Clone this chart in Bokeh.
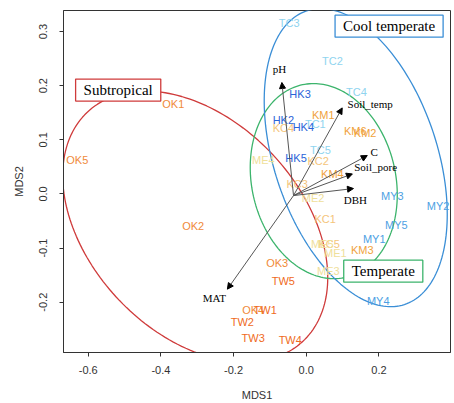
import numpy as np
from bokeh.plotting import figure
from bokeh.models import (FixedTicker, PrintfTickFormatter, Label, Arrow, NormalHead,
                          ColumnDataSource, Range1d)
from bokeh.core.properties import value
from bokeh.embed import file_html
from bokeh.resources import INLINE

# ---- site scores (NMDS) ----
sites = ["TC3", "TC2", "TC4", "TC1", "TC5",
         "HK3", "HK2", "HK4", "HK5",
         "KM1", "KM6", "KM2", "KM4", "KM3",
         "KC4", "KC2", "KC3", "KC1", "KC5",
         "ME4", "ME2", "ME5", "ME1", "ME3",
         "MY3", "MY2", "MY5", "MY1", "MY4",
         "OK1", "OK5", "OK2", "OK3", "OK4",
         "TW1", "TW5", "TW2", "TW3", "TW4"]
mds1 = [-0.047, 0.072, 0.138, 0.025, 0.039,
        -0.017, -0.063, -0.008, -0.028,
        0.047, 0.135, 0.162, 0.072, 0.154,
        -0.063, 0.033, -0.025, 0.052, 0.063,
        -0.118, 0.019, 0.044, 0.080, 0.061,
        0.237, 0.363, 0.248, 0.187, 0.198,
        -0.366, -0.630, -0.311, -0.080, -0.146,
        -0.113, -0.063, -0.176, -0.146, -0.044]
mds2 = [0.315, 0.245, 0.189, 0.130, 0.082,
        0.185, 0.136, 0.124, 0.067,
        0.145, 0.117, 0.112, 0.036, -0.103,
        0.121, 0.060, 0.019, -0.046, -0.092,
        0.062, -0.007, -0.092, -0.109, -0.142,
        -0.003, -0.022, -0.057, -0.083, -0.197,
        0.167, 0.063, -0.059, -0.127, -0.214,
        -0.214, -0.160, -0.236, -0.266, -0.269]
site_prefix = ["TC", "HK", "KM", "KC", "ME", "MY", "OK", "TW"]
prefix_colors = ["#8fd4ef", "#2b63d8", "#f0a23c", "#f4c47a", "#efe09a", "#4d9fe3", "#f08a3a", "#ef6a22"]

# ---- environmental vectors ----
vec_names = ["pH", "Soil_temp", "C", "Soil_pore", "DBH", "MAT"]
vec_x = [-0.067, 0.099, 0.168, 0.127, 0.130, -0.217]
vec_y = [0.206, 0.159, 0.071, 0.037, 0.010, -0.176]
vec_lab_x = [-0.074, 0.176, 0.187, 0.191, 0.135, -0.253]
vec_lab_y = [0.230, 0.167, 0.078, 0.049, -0.011, -0.193]
vec_origin = [-0.035, -0.003]

# ---- group ellipses ----
groups = ["Subtropical", "Temperate", "Cool temperate"]
group_colors = ["#cf3b3b", "#3cb46c", "#3a8ed6"]
ell_cx = [-0.3055, 0.0482, 0.1362]
ell_cy = [-0.0604, 0.0237, 0.0671]
ell_sxx = [0.1330, 0.04093, 0.06343]
ell_syy = [0.06273, 0.03248, 0.07585]
ell_sxy = [-0.03438, -0.00509, -0.02646]
group_lab_x = [-0.5175, 0.212, 0.228]
group_lab_y = [0.1919, -0.1427, 0.310]

p = figure(width=454, height=403, output_backend="svg", toolbar_location=None,
           x_range=Range1d(-0.668, 0.397), y_range=Range1d(-0.293, 0.339),
           min_border_left=63, min_border_right=4, min_border_top=10, min_border_bottom=51)
p.background_fill_color = "white"
p.border_fill_color = "white"
p.outline_line_color = "#333333"
p.outline_line_width = 1
p.xgrid.visible = False
p.ygrid.visible = False

for ax, ticks in ((p.xaxis[0], [-0.6, -0.4, -0.2, 0.0, 0.2, 0.4]),
                  (p.yaxis[0], [-0.2, -0.1, 0.0, 0.1, 0.2, 0.3])):
    ax.ticker = FixedTicker(ticks=ticks)
    ax.formatter = PrintfTickFormatter(format="%.1f")
    ax.minor_tick_line_color = None
    ax.major_tick_out = 4
    ax.major_tick_in = 0
    ax.axis_line_color = "#333333"
    ax.major_tick_line_color = "#333333"
    ax.major_label_text_font = "Liberation Sans"
    ax.major_label_text_font_size = "11px"
    ax.major_label_text_color = "#333333"
    ax.axis_label_text_font = "Liberation Sans"
    ax.axis_label_text_font_size = "11px"
    ax.axis_label_text_font_style = "normal"
    ax.axis_label_text_color = "#333333"
p.xaxis.axis_label = "MDS1"
p.yaxis.axis_label = "MDS2"
p.xaxis.major_label_standoff = 9
p.xaxis.axis_label_standoff = 12
p.yaxis.major_label_standoff = 12
p.yaxis.axis_label_standoff = 12
p.yaxis.major_label_orientation = "vertical"

# ellipses
t = np.linspace(0, 2 * np.pi, 200)
for cx, cy, sxx, syy, sxy, col in zip(ell_cx, ell_cy, ell_sxx, ell_syy, ell_sxy, group_colors):
    l00 = np.sqrt(sxx)
    l10 = sxy / l00
    l11 = np.sqrt(syy - l10 ** 2)
    ex = cx + l00 * np.cos(t)
    ey = cy + l10 * np.cos(t) + l11 * np.sin(t)
    p.line(ex, ey, line_color=col, line_width=1.3)

# vectors
vsrc = ColumnDataSource(dict(x0=[vec_origin[0]] * len(vec_x), y0=[vec_origin[1]] * len(vec_y),
                             x1=vec_x, y1=vec_y))
p.add_layout(Arrow(end=NormalHead(size=6, fill_color="black", line_color="black"),
                   x_start="x0", y_start="y0", x_end="x1", y_end="y1", source=vsrc,
                   line_color="#555555", line_width=1))
p.text(vec_lab_x, vec_lab_y, text=vec_names, text_align="center", text_baseline="middle",
       text_font=value("Liberation Serif"), text_font_size="11px", text_color="black")

# site labels
colmap = dict(zip(site_prefix, prefix_colors))
scol = [colmap[s[:2]] for s in sites]
ssrc = ColumnDataSource(dict(x=mds1, y=mds2, t=sites, c=scol))
p.text("x", "y", text="t", source=ssrc, text_color="c", text_align="center",
       text_baseline="middle", text_font=value("Liberation Sans"), text_font_size="11px")

# group label boxes
for name, gx, gy, col in zip(groups, group_lab_x, group_lab_y, group_colors):
    p.add_layout(Label(x=gx, y=gy, text=name, text_align="center", text_baseline="middle",
                       text_font="Liberation Serif", text_font_size="15px", text_color="black",
                       border_line_color=col, border_line_width=1.3,
                       background_fill_color="white",
                       padding=dict(left=8, right=8, top=3, bottom=3)))

open("out.html", "w").write(file_html(p, INLINE))
